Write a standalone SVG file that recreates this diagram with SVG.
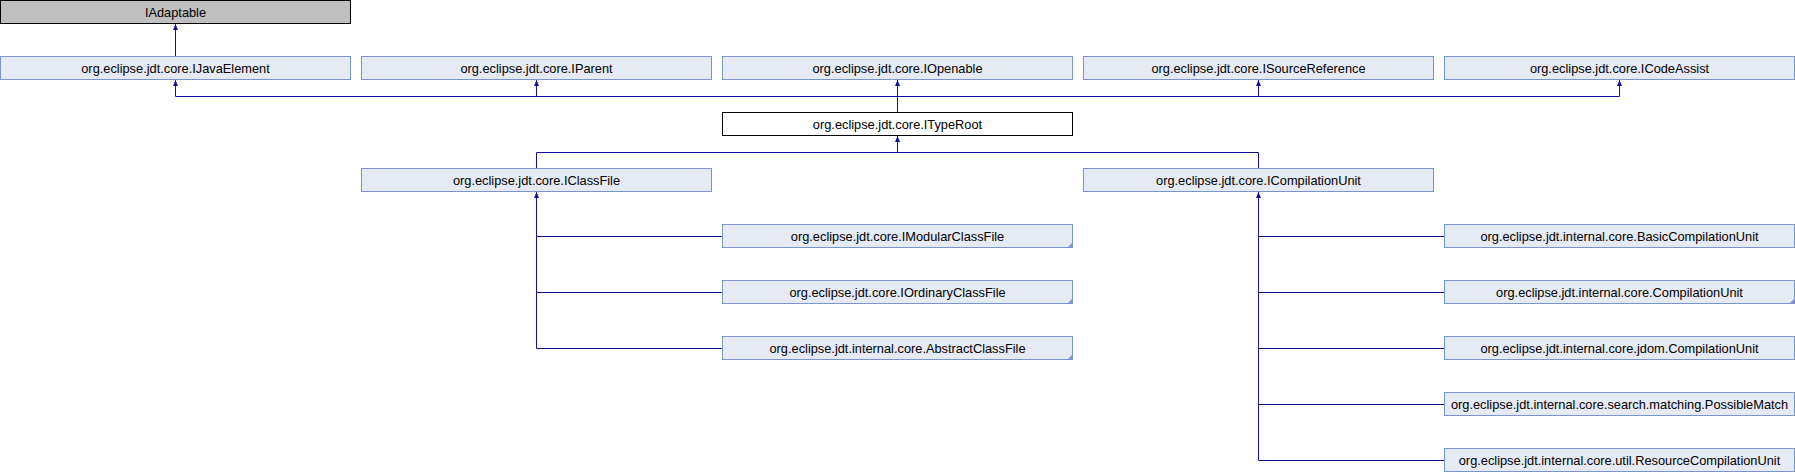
<svg xmlns="http://www.w3.org/2000/svg" width="1795" height="472" viewBox="0 0 1795 472">
<style>
.n rect{fill:#e6eaf4;stroke:#7b94cc;stroke-width:1}
.n text,.g text,.w text{font-family:"Liberation Sans",Arial,sans-serif;font-size:12.8px;fill:#000;text-anchor:middle}
.g rect{fill:#bfbfbf;stroke:#000;stroke-width:1}
.w rect{fill:#fff;stroke:#000;stroke-width:1}
.fold{fill:#7b94cc;stroke:none}
#edges path{fill:none;stroke:#10109a;stroke-width:1}
</style>
<defs>
<marker id="ah" markerUnits="userSpaceOnUse" markerWidth="6" markerHeight="5" refX="6" refY="2.5" orient="auto">
<path d="M0,0 L6,2.5 L0,5 Z" fill="#10109a"/>
</marker>
</defs>
<rect width="1795" height="472" fill="#fff"/>
<g id="edges">
<path d="M175.5,56.5 V24" marker-end="url(#ah)"/>
<path d="M897.5,112.5 V96.5"/>
<path d="M175.5,96.5 H1619.5"/>
<path d="M175.5,96.5 V80" marker-end="url(#ah)"/>
<path d="M536.5,96.5 V80" marker-end="url(#ah)"/>
<path d="M897.5,96.5 V80" marker-end="url(#ah)"/>
<path d="M1258.5,96.5 V80" marker-end="url(#ah)"/>
<path d="M1619.5,96.5 V80" marker-end="url(#ah)"/>
<path d="M536.5,168.5 V152.5 H1258.5 V168.5"/>
<path d="M897.5,152.5 V136" marker-end="url(#ah)"/>
<path d="M536.5,348.5 V192" marker-end="url(#ah)"/>
<path d="M536.5,236.5 H722.5 M536.5,292.5 H722.5 M536.5,348.5 H722.5"/>
<path d="M1258.5,460.5 V192" marker-end="url(#ah)"/>
<path d="M1258.5,236.5 H1444.5 M1258.5,292.5 H1444.5 M1258.5,348.5 H1444.5 M1258.5,404.5 H1444.5 M1258.5,460.5 H1444.5"/>
</g>
<g id="IAdaptable" class="g"><rect x="0.5" y="0.5" width="350" height="23"/><text x="175.5" y="16.5">IAdaptable</text></g>
<g id="IJavaElement" class="n"><rect x="0.5" y="56.5" width="350" height="23"/><text x="175.5" y="72.5">org.eclipse.jdt.core.IJavaElement</text></g>
<g id="IParent" class="n"><rect x="361.5" y="56.5" width="350" height="23"/><text x="536.5" y="72.5">org.eclipse.jdt.core.IParent</text></g>
<g id="IOpenable" class="n"><rect x="722.5" y="56.5" width="350" height="23"/><text x="897.5" y="72.5">org.eclipse.jdt.core.IOpenable</text></g>
<g id="ISourceReference" class="n"><rect x="1083.5" y="56.5" width="350" height="23"/><text x="1258.5" y="72.5">org.eclipse.jdt.core.ISourceReference</text></g>
<g id="ICodeAssist" class="n"><rect x="1444.5" y="56.5" width="350" height="23"/><text x="1619.5" y="72.5">org.eclipse.jdt.core.ICodeAssist</text></g>
<g id="ITypeRoot" class="w"><rect x="722.5" y="112.5" width="350" height="23"/><text x="897.5" y="128.5">org.eclipse.jdt.core.ITypeRoot</text></g>
<g id="IClassFile" class="n"><rect x="361.5" y="168.5" width="350" height="23"/><text x="536.5" y="184.5">org.eclipse.jdt.core.IClassFile</text></g>
<g id="ICompilationUnit" class="n"><rect x="1083.5" y="168.5" width="350" height="23"/><text x="1258.5" y="184.5">org.eclipse.jdt.core.ICompilationUnit</text></g>
<g id="IModularClassFile" class="n"><rect x="722.5" y="224.5" width="350" height="23"/><text x="897.5" y="240.5">org.eclipse.jdt.core.IModularClassFile</text><polygon class="fold" points="1073,242 1073,248 1067,248"/></g>
<g id="IOrdinaryClassFile" class="n"><rect x="722.5" y="280.5" width="350" height="23"/><text x="897.5" y="296.5">org.eclipse.jdt.core.IOrdinaryClassFile</text><polygon class="fold" points="1073,298 1073,304 1067,304"/></g>
<g id="AbstractClassFile" class="n"><rect x="722.5" y="336.5" width="350" height="23"/><text x="897.5" y="352.5">org.eclipse.jdt.internal.core.AbstractClassFile</text><polygon class="fold" points="1073,354 1073,360 1067,360"/></g>
<g id="BasicCompilationUnit" class="n"><rect x="1444.5" y="224.5" width="350" height="23"/><text x="1619.5" y="240.5">org.eclipse.jdt.internal.core.BasicCompilationUnit</text></g>
<g id="CompilationUnit" class="n"><rect x="1444.5" y="280.5" width="350" height="23"/><text x="1619.5" y="296.5">org.eclipse.jdt.internal.core.CompilationUnit</text><polygon class="fold" points="1795,298 1795,304 1789,304"/></g>
<g id="JdomCompilationUnit" class="n"><rect x="1444.5" y="336.5" width="350" height="23"/><text x="1619.5" y="352.5">org.eclipse.jdt.internal.core.jdom.CompilationUnit</text></g>
<g id="PossibleMatch" class="n"><rect x="1444.5" y="392.5" width="350" height="23"/><text x="1619.5" y="408.5">org.eclipse.jdt.internal.core.search.matching.PossibleMatch</text></g>
<g id="ResourceCompilationUnit" class="n"><rect x="1444.5" y="448.5" width="350" height="23"/><text x="1619.5" y="464.5">org.eclipse.jdt.internal.core.util.ResourceCompilationUnit</text></g>
</svg>
